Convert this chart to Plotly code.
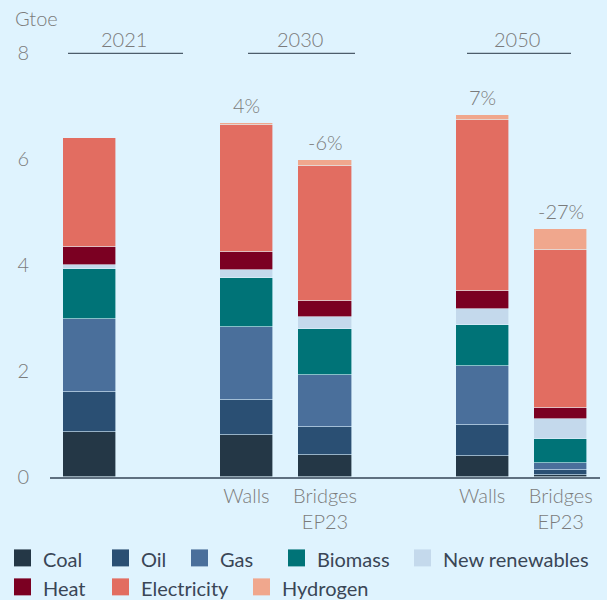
import plotly.graph_objects as go

# Final energy consumption by source, Gtoe
columns = ["2021", "Walls 2030", "Bridges EP23 2030", "Walls 2050", "Bridges EP23 2050"]
col_x = [0, 2, 3, 5, 6]

sources = ["Coal", "Oil", "Gas", "Biomass", "New renewables", "Heat", "Electricity", "Hydrogen"]
colors = ["#243746", "#2a4f73", "#4a6f9b", "#007377", "#c4d9ec", "#7b0022", "#e26d61", "#f0a78d"]

coal = [0.85, 0.79, 0.42, 0.40, 0.04]
oil = [0.75, 0.66, 0.52, 0.58, 0.10]
gas = [1.38, 1.38, 0.99, 1.11, 0.13]
biomass = [0.95, 0.92, 0.87, 0.78, 0.44]
new_renewables = [0.07, 0.15, 0.22, 0.30, 0.39]
heat = [0.34, 0.35, 0.31, 0.34, 0.20]
electricity = [2.05, 2.39, 2.54, 3.22, 2.98]
hydrogen = [0.00, 0.03, 0.12, 0.10, 0.39]

series = [coal, oil, gas, biomass, new_renewables, heat, electricity, hydrogen]

tick_x = [2, 3, 5, 6]
tick_text = ["Walls", "Bridges<br>EP23", "Walls", "Bridges<br>EP23"]

year_labels = ["2021", "2030", "2050"]

BG = "#dff3fe"
GREY = "#7b7b7b"
DARK = "#3a4656"
FONT = "Lato, 'Noto Sans', sans-serif"
LIGHT = 300

# plot-area geometry in pixels (used to place header and legend items)
W, H = 607, 600
L, R, T, B = 50, 7, 53, 122.5
PW, PH = W - L - R, H - T - B


def px_x(px):
    return (px - L) / PW


def px_y(py):
    return (H - B - py) / PH


fig = go.Figure()
for name, vals, col in zip(sources, series, colors):
    fig.add_trace(go.Bar(
        x=col_x, y=vals, name=name, width=0.675,
        marker=dict(color=col, line=dict(color=BG, width=0.6)),
        showlegend=False,
    ))

# change in total vs 2021, above each scenario bar
totals = [sum(s[i] for s in series) for i in range(len(columns))]
for i in range(1, len(columns)):
    pct = round((totals[i] / totals[0] - 1) * 100)
    fig.add_annotation(
        x=col_x[i], y=totals[i], text=f"{pct}%", showarrow=False,
        yanchor="bottom", yshift=4,
        font=dict(size=20, color=GREY, family=FONT, weight=LIGHT),
    )

# year headers with underline
headers = [(124, 68, 183), (300, 248, 355), (517, 467, 571)]
for label, (cx, x0, x1) in zip(year_labels, headers):
    fig.add_annotation(
        x=px_x(cx), y=px_y(38.5), xref="paper", yref="paper", text=label,
        showarrow=False, xanchor="center", yanchor="middle",
        font=dict(size=20, color=GREY, family=FONT, weight=LIGHT),
    )
    fig.add_shape(
        type="line", xref="paper", yref="paper",
        x0=px_x(x0), x1=px_x(x1), y0=px_y(53.3), y1=px_y(53.3),
        line=dict(color="#4d5d6b", width=1.3),
    )

# unit label
fig.add_annotation(
    x=px_x(13), y=px_y(17.5), xref="paper", yref="paper", text="Gtoe",
    showarrow=False, xanchor="left", yanchor="middle",
    font=dict(size=20, color=GREY, family=FONT, weight=LIGHT),
)

# legend: two rows of swatches and labels
legend_pos = [
    (14, 558.5), (112, 558.5), (191, 558.5), (288, 558.5), (414, 558.5),
    (14, 587.5), (112, 587.5), (253, 587.5),
]
for name, col, (lx, ly) in zip(sources, colors, legend_pos):
    fig.add_shape(
        type="rect", xref="paper", yref="paper",
        x0=px_x(lx), x1=px_x(lx + 17), y0=px_y(ly - 8.5), y1=px_y(ly + 8.5),
        fillcolor=col, line=dict(width=0),
    )
    fig.add_annotation(
        x=px_x(lx + 27), y=px_y(ly + 1), xref="paper", yref="paper", text=name,
        showarrow=False, xanchor="left", yanchor="middle",
        font=dict(size=20, color=DARK, family=FONT),
    )

fig.update_layout(
    width=W, height=H,
    margin=dict(l=L, r=R, t=T, b=B),
    paper_bgcolor=BG, plot_bgcolor=BG,
    barmode="stack", bargap=0,
    font=dict(family=FONT, size=20, color=GREY),
    xaxis=dict(
        range=[-0.5, 6.5], tickmode="array", tickvals=tick_x, ticktext=tick_text,
        showgrid=False, zeroline=False, showline=True, linecolor="#5f7080", linewidth=2,
        ticks="", tickfont=dict(size=20, color=GREY, family=FONT, weight=LIGHT),
    ),
    yaxis=dict(
        range=[0, 8], tickvals=[0, 2, 4, 6, 8], showgrid=False, zeroline=False,
        showline=False, ticks="", ticklabelstandoff=20,
        tickfont=dict(size=20, color=GREY, family=FONT, weight=LIGHT),
    ),
)

fig.write_html("out.html")
